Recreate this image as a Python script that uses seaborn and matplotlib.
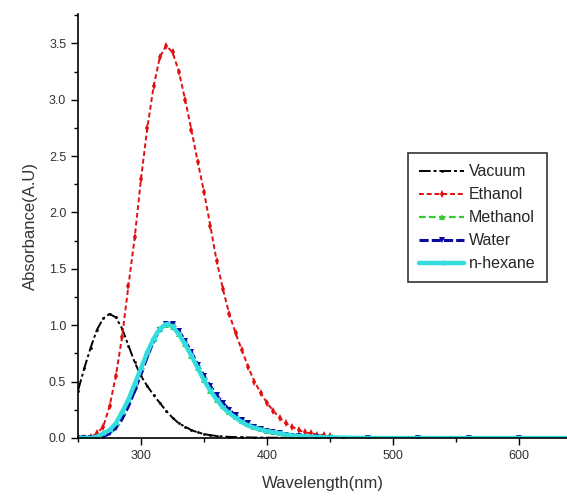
import matplotlib
matplotlib.use("Agg")
import matplotlib.pyplot as plt
import seaborn as sns
import pandas as pd
from matplotlib.ticker import MultipleLocator

# --- datos (nm, absorbancia) ---
vacuum_x = [250, 255, 260, 265, 270, 275, 280, 285, 290, 295, 300, 305, 310, 315, 320,
            325, 330, 335, 340, 345, 350, 355, 360, 370, 380, 390, 400, 420, 440, 460]
vacuum_y = [0.42, 0.62, 0.80, 0.96, 1.06, 1.10, 1.07, 0.97, 0.82, 0.67, 0.55, 0.46, 0.38,
            0.31, 0.24, 0.18, 0.13, 0.10, 0.07, 0.05, 0.035, 0.025, 0.018, 0.01, 0.006,
            0.004, 0.003, 0.002, 0.001, 0.0]

ethanol_x = [250, 255, 260, 265, 270, 275, 280, 285, 290, 295, 300, 305, 310, 315, 320,
             325, 330, 335, 340, 345, 350, 355, 360, 365, 370, 375, 380, 385, 390, 395,
             400, 405, 410, 415, 420, 425, 430, 435, 440, 445, 450]
ethanol_y = [0.0, 0.0, 0.01, 0.04, 0.10, 0.28, 0.55, 0.90, 1.35, 1.78, 2.30, 2.75, 3.12,
             3.38, 3.48, 3.42, 3.25, 3.00, 2.73, 2.45, 2.18, 1.88, 1.57, 1.32, 1.10, 0.93,
             0.78, 0.63, 0.50, 0.40, 0.31, 0.24, 0.18, 0.13, 0.10, 0.07, 0.05, 0.04, 0.03,
             0.025, 0.02]

solv_x = [250, 255, 260, 265, 270, 275, 280, 285, 290, 295, 300, 305, 310, 315, 320,
          325, 330, 335, 340, 345, 350, 355, 360, 365, 370, 375, 380, 385, 390, 395,
          400, 405, 410, 415, 420, 425, 430, 440, 450, 480, 520, 560, 600, 640]
methanol_y = [0.0, 0.0, 0.0, 0.01, 0.04, 0.07, 0.13, 0.23, 0.34, 0.48, 0.62, 0.76, 0.88,
              0.97, 1.00, 0.98, 0.92, 0.83, 0.73, 0.62, 0.51, 0.42, 0.34, 0.28, 0.23,
              0.19, 0.15, 0.12, 0.10, 0.08, 0.065, 0.05, 0.04, 0.03, 0.022, 0.018, 0.014,
              0.009, 0.005, 0.0, 0.0, 0.0, 0.0, 0.0]
water_y = [0.0, 0.0, 0.0, 0.0, 0.01, 0.04, 0.09, 0.17, 0.28, 0.42, 0.57, 0.72, 0.86,
           0.96, 1.01, 1.01, 0.95, 0.86, 0.76, 0.65, 0.55, 0.46, 0.38, 0.31, 0.25, 0.20,
           0.16, 0.13, 0.10, 0.08, 0.06, 0.05, 0.04, 0.03, 0.02, 0.015, 0.01, 0.006,
           0.003, 0.0, 0.0, 0.0, 0.0, 0.0]
hexane_y = [0.0, 0.0, 0.0, 0.01, 0.04, 0.07, 0.13, 0.23, 0.34, 0.48, 0.62, 0.76, 0.88,
            0.97, 1.01, 0.99, 0.92, 0.83, 0.73, 0.62, 0.51, 0.42, 0.34, 0.27, 0.22,
            0.18, 0.14, 0.11, 0.09, 0.075, 0.06, 0.05, 0.04, 0.03, 0.022, 0.018, 0.014,
            0.009, 0.005, 0.0, 0.0, 0.0, 0.0, 0.0]

series = [
    ("Vacuum", vacuum_x, vacuum_y, "black", ".", (0, (6, 1.5, 1.5, 1.5)), 1.4, 4),
    ("Ethanol", ethanol_x, ethanol_y, "#e01010", "d", (0, (2.5, 1.5)), 1.4, 4),
    ("Methanol", solv_x, methanol_y, "#33cc33", "^", (0, (3, 1.5)), 1.6, 4),
    ("Water", solv_x, water_y, "#0a0aa0", "v", (0, (3, 1)), 2.2, 4),
    ("n-hexane", solv_x, hexane_y, "#33dddd", "<", "-", 3.2, 4),
]

sns.set_theme(style="ticks")
plt.rcParams['font.family'] = ['Liberation Sans', 'DejaVu Sans']

fig = plt.figure(figsize=(5.67, 5.0), dpi=100)
ax = fig.add_axes([0.1376, 0.124, 0.8624, 0.848])

for nombre, xs, ys, color, marca, estilo, grosor, tam in series:
    df = pd.DataFrame({"x": xs, "y": ys})
    sns.lineplot(data=df, x="x", y="y", ax=ax, color=color, marker=marca,
                 linestyle=estilo, linewidth=grosor, markersize=tam,
                 markeredgewidth=0, label=nombre)

ax.set_xlim(250, 638)
ax.set_ylim(0, 3.76)
ax.xaxis.set_major_locator(MultipleLocator(100))
ax.xaxis.set_minor_locator(MultipleLocator(50))
ax.yaxis.set_minor_locator(MultipleLocator(0.25))
ax.set_yticks([0.0, 0.5, 1.0, 1.5, 2.0, 2.5, 3.0, 3.5])
ax.set_yticklabels(["0.0", "0.5", "1.0", "1.5", "2.0", "2.5", "3.0", "3.5"])
ax.tick_params(which="major", direction="out", length=5, width=1, labelsize=9,
               colors="black", labelcolor="#333333")
ax.tick_params(which="minor", direction="out", length=3, width=1, colors="black")
for lado in ["top", "right"]:
    ax.spines[lado].set_visible(False)
for lado in ["left", "bottom"]:
    ax.spines[lado].set_linewidth(1.2)
    ax.spines[lado].set_color("black")

ax.set_xlabel("Wavelength(nm)", fontsize=12, color="#333333", labelpad=10)
ax.set_ylabel("Absorbance(A.U)", fontsize=12, color="#333333", labelpad=8)

leg = ax.legend(loc="upper left", bbox_to_anchor=(408 / 567, 1 - 153 / 500),
                bbox_transform=fig.transFigure, frameon=True, fancybox=False,
                fontsize=11.5, handlelength=2.8, borderpad=0.7, labelspacing=0.5,
                handletextpad=0.3, borderaxespad=0)
leg.get_frame().set_edgecolor("black")
leg.get_frame().set_linewidth(1.2)

fig.savefig("out.png", dpi=100)
